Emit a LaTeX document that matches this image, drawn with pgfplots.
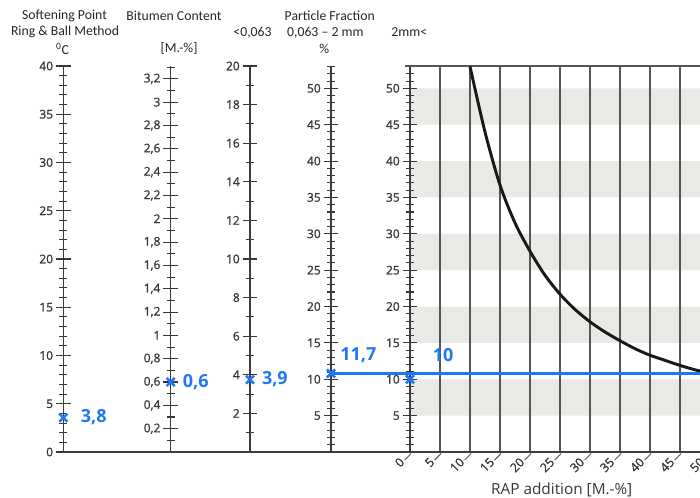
\documentclass[border=0pt]{standalone}
\usepackage{pgfplots}
\pgfplotsset{compat=1.18}
\usepackage{fontspec}
\setmainfont{Open Sans}
\newfontfamily\headfont{Carlito}
\newfontfamily\tickfont[FakeBold=1.2]{Open Sans}
\definecolor{axisgray}{RGB}{60,60,60}
\definecolor{tickgray}{RGB}{55,55,55}
\definecolor{bandgray}{RGB}{232,234,229}
\definecolor{gridgray}{RGB}{85,85,85}
\definecolor{markblue}{RGB}{30,120,245}

\pgfplotsset{
  scale bar/.style={
    scale only axis, width=1pt, height=289.5pt,
    xmin=0, xmax=1, ymin=0,
    axis x line=none, axis y line=left,
    axis line style={-, axisgray, line width=1.1pt},
    tick align=center, major tick length=11pt, minor tick length=6pt,
    tick style={tickgray, line width=0.8pt},
    yticklabel={\pgfmathprintnumber[use comma, assume math mode=true]{\tick}},
    yticklabel style={font=\tickfont\fontsize{9}{10}\selectfont, text=tickgray, inner sep=2pt},
    clip=false, anchor=south west,
  },
  rap frame/.style={scale only axis, width=247.5pt, height=289.5pt,
    at={(307.5pt,34.5pt)}, anchor=south west,
    xmin=0, xmax=55, ymin=0, ymax=53.07, clip=false},
  blue x/.style={only marks, mark=x, mark size=4.3pt, color=markblue, line width=1.9pt},
}
\tikzset{blue label/.style={text=markblue, font=\bfseries\fontsize{13.5}{14}\selectfont, inner sep=0pt, anchor=west}}

\begin{document}
\begin{tikzpicture}
\path[use as bounding box] (0,0) rectangle (525pt,373.5pt);

% column titles
\begin{scope}[every node/.style={font=\headfont\fontsize{10.3}{12}\selectfont, text=black!85, inner sep=0pt}]
  \node at (48.4pt,361.5pt) {Softening Point};
  \node at (48.8pt,349.3pt) {Ring \& Ball Method};
  \node at (46.9pt,336.8pt) {\textsuperscript{0}C};
  \node at (130.5pt,361.5pt) {Bitumen Content};
  \node at (134.3pt,336.8pt) {[M.-\%]};
  \node at (189.4pt,349.3pt) {<0,063};
  \node at (247.3pt,361.5pt) {Particle Fraction};
  \node at (244pt,349.3pt) {0,063 – 2 mm};
  \node at (243.2pt,336.8pt) {\%};
  \node at (307pt,349.3pt) {2mm<};
\end{scope}

% grey bands behind the RAP grid
\begin{axis}[rap frame, hide axis]
  \addplot[fill=bandgray, draw=none] coordinates {(0,5) (55,5) (55,10) (0,10) (0,5)};
  \addplot[fill=bandgray, draw=none] coordinates {(0,15) (55,15) (55,20) (0,20) (0,15)};
  \addplot[fill=bandgray, draw=none] coordinates {(0,25) (55,25) (55,30) (0,30) (0,25)};
  \addplot[fill=bandgray, draw=none] coordinates {(0,35) (55,35) (55,40) (0,40) (0,35)};
  \addplot[fill=bandgray, draw=none] coordinates {(0,45) (55,45) (55,50) (0,50) (0,45)};
\end{axis}

% common base line
\draw[axisgray, line width=1.1pt] (47.5pt,34.5pt) -- (307.5pt,34.5pt);

% softening point
\begin{axis}[scale bar, at={(47.5pt,34.5pt)}, ymax=40,
  ytick={0,5,...,40}, minor ytick={0,...,40}]
  \addplot[blue x] coordinates {(0,3.55)};
  \node[blue label] at (axis cs:0,3.6) [xshift=13pt] {3,8};
\end{axis}

% bitumen content
\begin{axis}[scale bar, at={(128pt,34.5pt)}, ymax=3.31,
  ytick={0.2,0.4,0.6,0.8,1,1.2,1.4,1.6,1.8,2,2.2,2.4,2.6,2.8,3,3.2},
  minor ytick={0.1,0.3,0.5,0.7,0.9,1.1,1.3,1.5,1.7,1.9,2.1,2.3,2.5,2.7,2.9,3.1,3.3}]
  \addplot[blue x] coordinates {(0,0.6)};
  \node[blue label] at (axis cs:0,0.6) [xshift=9pt] {0,6};
\end{axis}

% fraction < 0,063
\begin{axis}[scale bar, at={(187.5pt,34.5pt)}, ymax=20,
  ytick={2,4,...,20}, minor ytick={1,3,...,19}]
  \addplot[blue x] coordinates {(0,3.75)};
  \node[blue label] at (axis cs:0,3.75) [xshift=8.8pt] {3,9};
\end{axis}

% fraction 0,063 - 2 mm
\begin{axis}[scale bar, at={(248.25pt,34.5pt)}, ymax=53.07,
  ytick={5,10,...,50}, minor ytick={0,...,53}]
  \addplot[blue x] coordinates {(0,10.8)};
  \node[blue label] at (axis cs:0,10.8) [xshift=6.8pt, yshift=14pt] {11,7};
\end{axis}

% fraction > 2 mm vs RAP addition
\begin{axis}[rap frame,
  axis lines*=left, axis line style={-, axisgray, line width=1.1pt},
  xtick={0,5,...,50}, xmajorgrids,
  major grid style={gridgray, line width=0.8pt},
  ytick={5,10,...,50}, minor ytick={0,...,53},
  tick align=center, major tick length=11pt, minor tick length=6pt,
  ytick style={tickgray, line width=0.8pt},
  xtick style={draw=none},
  yticklabel={\pgfmathprintnumber[assume math mode=true]{\tick}},
  yticklabel style={font=\tickfont\fontsize{9}{10}\selectfont, text=tickgray, inner sep=2pt},
  xticklabel={\pgfmathprintnumber[assume math mode=true]{\tick}\hspace{1.2pt}\textcolor{gridgray}{\rule[0.3ex]{7pt}{0.7pt}}},
  xticklabel style={yshift=5.5pt, rotate=45, anchor=east, inner sep=0pt,
    font=\tickfont\fontsize{9.2}{10}\selectfont, text=tickgray},
]
  \draw[gridgray, line width=0.8pt] (axis cs:-0.8,53.07) -- (axis cs:55,53.07);
  \addplot[black!90, line width=2.2pt, smooth] coordinates {
    (10,53.0) (12.5,44.0) (15,36.7) (17.5,31.5) (20,27.6) (22.5,24.3)
    (25,21.7) (27.5,19.6) (30,17.9) (32.5,16.5) (35,15.3) (37.5,14.2)
    (40,13.3) (42.5,12.6) (45,11.9) (47.5,11.3) (50,10.8) (52.5,10.3)};
  \addplot[markblue, line width=2.2pt] coordinates {(-13.17,10.8) (55,10.8)};
  \addplot[blue x] coordinates {(0,10.0)};
  \node[blue label] at (axis cs:0,10.0) [xshift=17pt, yshift=18.5pt] {10};
\end{axis}

\node[font=\fontsize{11.5}{13}\selectfont, text=tickgray] at (421.3pt,6pt) {RAP addition [M.-\%]};
\end{tikzpicture}
\end{document}
